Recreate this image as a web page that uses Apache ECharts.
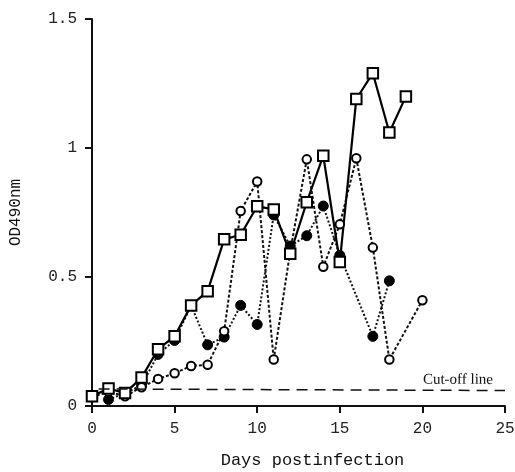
<!DOCTYPE html>
<html>
<head>
<meta charset="utf-8">
<script src="https://cdn.jsdelivr.net/npm/echarts@6/dist/echarts.min.js"></script>
<style>
html,body{margin:0;padding:0;background:#fff;}
#main{width:515px;height:472px;}
</style>
</head>
<body>
<div id="main"></div>
<script>
// open squares, solid line
var squareDays = [0,1,2,3,4,5,6,7,8,9,10,11,12,13,14,15,16,17,18,19];
var squareVals = [0.038,0.068,0.05,0.11,0.22,0.27,0.39,0.445,0.646,0.664,0.774,0.762,0.59,0.79,0.97,0.558,1.19,1.29,1.06,1.2];
// open circles, dotted line
var openDays = [0,1,2,3,4,5,6,7,8,9,10,11,12,13,14,15,16,17,18,20];
var openVals = [0.035,0.055,0.038,0.073,0.105,0.127,0.155,0.16,0.29,0.756,0.87,0.18,0.6,0.956,0.54,0.704,0.96,0.614,0.18,0.41];
// filled circles, dotted line
var fillDays = [1,2,3,4,5,6,7,8,9,10,11,12,13,14,15,17,18];
var fillVals = [0.025,0.05,0.08,0.2,0.254,0.39,0.237,0.267,0.39,0.316,0.74,0.62,0.66,0.775,0.584,0.27,0.485];
var cutoff = [[0.4,0.066],[25,0.06]];
var xTicks = [0,5,10,15,20,25];
var yTicks = [0,0.5,1,1.5];

function pairs(d, v){
    var out = [];
    for(var i=0;i<d.length;i++){ out.push([d[i], v[i]]); }
    return out;
}

var mono = 'Liberation Mono';
var chart = echarts.init(document.getElementById('main'));
chart.setOption({
    animation:false,
    backgroundColor:'#fff',
    grid:{left:92,top:19,right:10,bottom:66,outerBoundsMode:'none',containLabel:false},
    xAxis:{
        type:'value',min:0,max:25,interval:5,
        name:'Days postinfection',nameLocation:'middle',nameGap:46,
        nameTextStyle:{fontFamily:mono,fontSize:17,color:'#111',padding:[0,0,0,28]},
        axisLine:{lineStyle:{color:'#111',width:2}},
        axisTick:{length:7,lineStyle:{color:'#111',width:2}},
        axisLabel:{fontFamily:mono,fontSize:16,color:'#222',margin:15,
            formatter:function(v){ return xTicks.indexOf(v)>=0 ? String(v) : ''; }},
        splitLine:{show:false}
    },
    yAxis:{
        type:'value',min:0,max:1.5,interval:0.5,
        name:'OD490nm',nameLocation:'middle',nameGap:68,
        nameTextStyle:{fontFamily:mono,fontSize:16,color:'#111'},
        axisLine:{show:true,lineStyle:{color:'#111',width:2}},
        axisTick:{show:true,length:7,lineStyle:{color:'#111',width:2}},
        axisLabel:{fontFamily:mono,fontSize:16,color:'#222',margin:15,
            formatter:function(v){
                if(yTicks.indexOf(v)<0) return '';
                return v===0 ? '0' : (v===1 ? '1' : v.toFixed(1));
            }},
        splitLine:{show:false}
    },
    series:[
        {
            type:'line',name:'cutoff',data:[],silent:true,
            markLine:{
                silent:true,symbol:'none',
                lineStyle:{color:'#111',type:[11,7],width:1.5},
                label:{show:true,position:'insideEndTop',formatter:'Cut-off line',
                    fontFamily:'Liberation Serif',fontSize:15,color:'#111',distance:[12,3]},
                data:[[{coord:cutoff[0]},{coord:cutoff[1]}]]
            }
        },
        {
            type:'line',name:'filled',data:pairs(fillDays,fillVals),
            symbol:'circle',symbolSize:10,
            itemStyle:{color:'#000',borderColor:'#000',borderWidth:1},
            lineStyle:{color:'#111',width:2,type:[2,2]}
        },
        {
            type:'line',name:'open',data:pairs(openDays,openVals),
            symbol:'circle',symbolSize:8.5,
            itemStyle:{color:'#fff',borderColor:'#000',borderWidth:2},
            lineStyle:{color:'#111',width:2,type:[3,2]}
        },
        {
            type:'line',name:'square',data:pairs(squareDays,squareVals),
            symbol:'rect',symbolSize:10.5,
            itemStyle:{color:'#fff',borderColor:'#000',borderWidth:2},
            lineStyle:{color:'#000',width:2.2}
        }
    ]
});
</script>
</body>
</html>
